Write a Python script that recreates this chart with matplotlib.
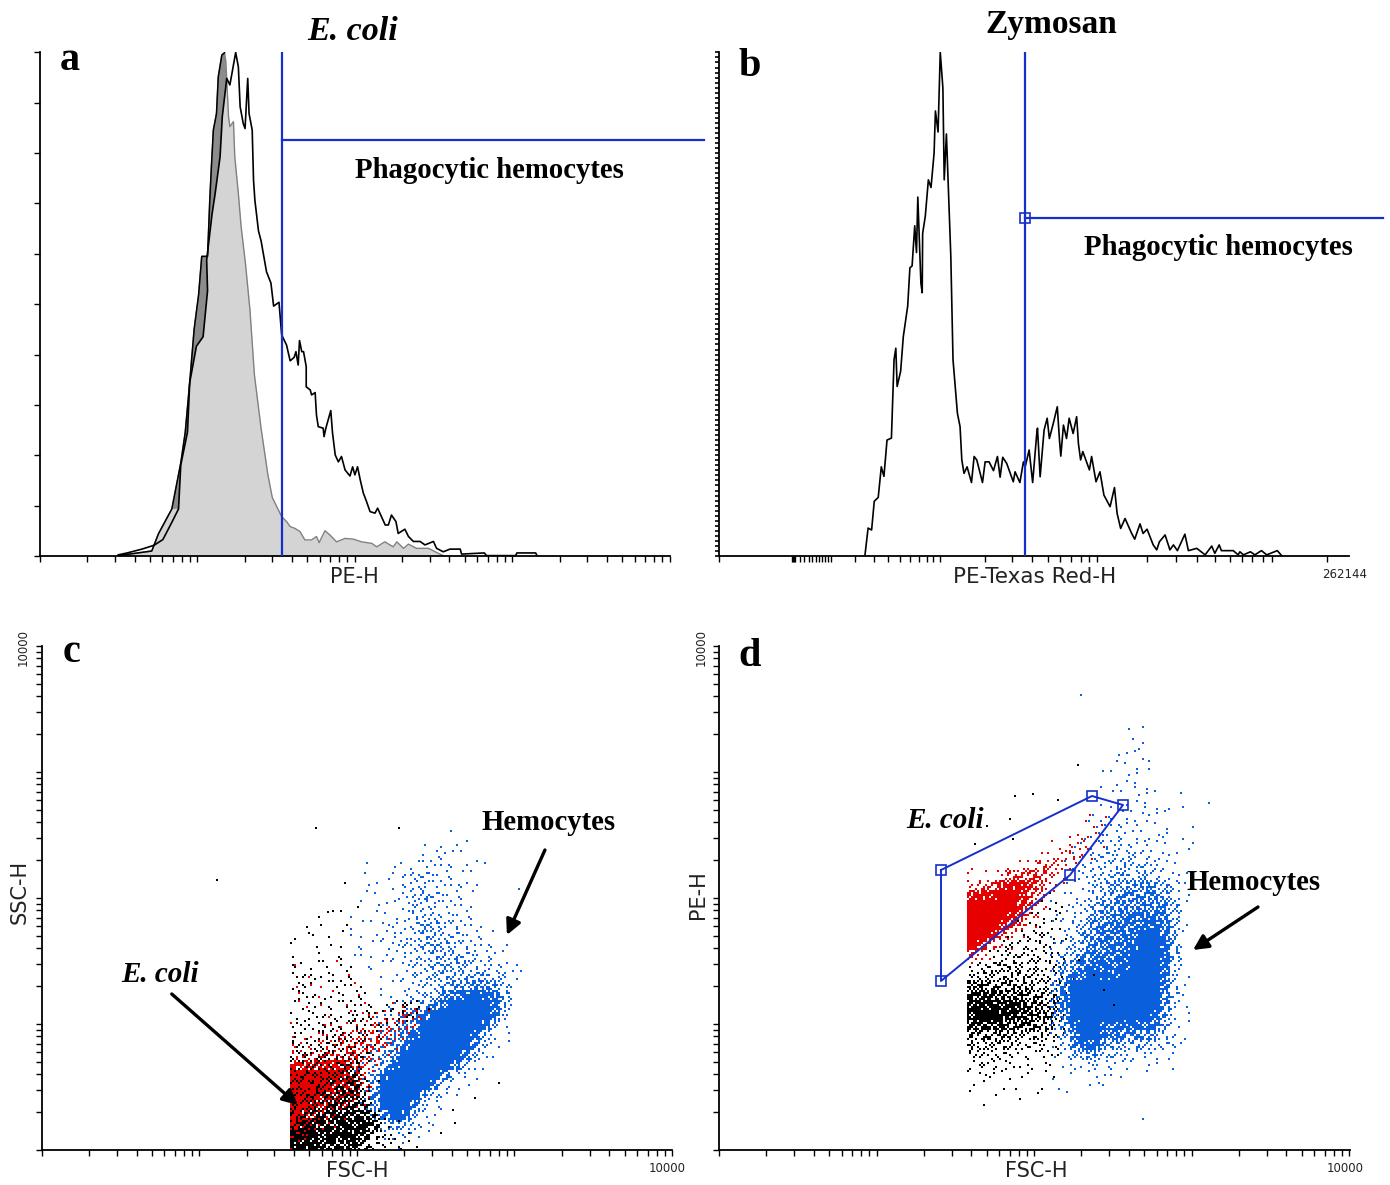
import matplotlib
matplotlib.use('Agg')
import matplotlib.pyplot as plt
import numpy as np

plt.rcParams['font.family'] = ['Liberation Serif', 'DejaVu Sans']

W, H = 1390, 1185

# histogram a, (channel, count)
a_sample = [(176,3),(196,8),(229,18),(256,28),(276,43),(296,88),(311,123),(316,238),(331,323),(336,453),(351,548),(366,573),(376,693),(374,773),(386,893),
            (393,947),(404,1043),(409,1148),(419,1248),(426,1231),(432,1270),(439,1316),(445,1278),(449,1174),(456,1130),(460,1117),(466,1248),(469,1156),(476,1113),(479,982),(482,930),
            (490,850),(496,823),(508,743),(518,713),(524,653),(536,663),(542,578),(553,551),(561,510),(570,519),(574,534),(579,499),(582,563),(587,534),(591,534),(597,495),(597,442),
            (606,434),(609,421),(617,427),(620,368),(624,338),(635,334),(637,312),(641,334),(652,380),(656,321),(662,264),(669,246),(676,260),(684,225),(695,209),(701,233),(706,212),
            (712,233),(718,199),(725,164),(731,146),(740,116),(751,112),(757,125),(762,112),(774,81),(781,81),(788,107),(798,90),(803,59),(818,70),(826,51),(837,38),(852,38),(863,29),
            (882,38),(889,20),(904,11),(919,18),(942,18),(945,5),(996,8),(1001,1),(1066,1),(1069,8),(1111,8),(1114,1)]
a_control = [(176,1),(251,13),(266,58),(296,123),(316,243),(326,323),(336,453),(346,593),(356,683),(363,783),(376,783),(381,930),(385,1026),(389,1113),(396,1156),(400,1252),
             (408,1309),(414,1315),(417,1291),(423,1148),(426,1122),(434,1135),(437,1043),(445,947),(451,863),(461,763),(471,643),(481,473),(496,333),(511,213),(521,153),
             (542,103),(553,90),(561,77),(572,72),(583,64),(594,42),(609,42),(620,51),(626,35),(639,66),(650,55),(665,37),(684,46),(703,44),(721,37),(744,33),(755,24),(773,37),
             (792,24),(800,37),(815,20),(826,31),(844,20),(871,20),(893,7),(904,1)]

# histogram b
b_counts = [(333,3),(340,73),(348,68),(354,143),(363,153),(370,233),(376,208),(383,303),(393,308),(399,513),(403,543),(406,443),(414,483),(420,573),(430,653),(435,753),(440,758),
            (446,863),(450,793),(453,938),(460,713),(463,688),(464,843),(470,888),(477,983),(483,963),(490,1053),(493,1163),(499,1108),(504,1316),(510,1223),(513,983),(518,1103),
            (523,943),(528,783),(533,513),(543,373),(549,338),(553,251),(558,216),(565,233),(575,192),(581,260),(587,251),(591,233),(600,192),(606,246),(615,246),(625,223),(634,260),
            (640,206),(646,258),(655,242),(670,194),(674,220),(685,192),(693,246),(697,233),(706,277),(714,192),(723,316),(725,334),(731,207),(740,329),(747,360),(752,307),(761,347),
            (770,390),(775,303),(778,261),(784,342),(791,307),(797,360),(806,320),(814,364),(818,294),(823,251),(828,273),(843,225),(848,260),(858,194),(867,220),(876,159),(890,129),
            (900,179),(906,111),(914,72),(924,98),(939,59),(946,44),(958,84),(965,59),(974,70),(988,29),(996,16),(1002,37),(1015,55),(1026,16),(1034,29),(1043,14),(1060,57),(1068,14),
            (1087,20),(1106,3),(1121,26),(1128,7),(1138,29),(1143,14),(1170,14),(1181,3),(1185,11),(1193,3),(1209,11),(1219,3),(1234,14),(1246,3),(1270,14),(1280,1)]
b_xticks = [0,168,170,172,174,185,195,205,213,221,229,236,243,250,256,311,353,385,413,435,455,473,488,503,606,668,713,748,776,801,823,843,860,975,1040,1088,1128,1163,1190,1213,1238,1258,1383]

# dot plots: events per 10x10 channel cell (0-9 scale)
c_blue = ["0000000000000000100000000","0000000000000101110000000","0000000000000122110000000","0000000100112222111100000",
          "0000000101123322111000000","0000000110123322221000100","0000000110123432211000000","0000000111123332211000000",
          "0000001011123332221000000","0000001112223443321100000","0000001112223443322110000","0000001112233444332211000",
          "0000001111223344433221000","0000000111123344443322100","0000000001123344444433210","0000000001122334556653100",
          "0000000001123346789874100","0000000001223468999984100","0000000011235799999973000","0000000012346999999841000",
          "0000000123468999998421000","0000000123579999996321000","0000000134699999974210000","0000001135899999742100000",
          "0000001248999996321000000","0000000259999963210000000","0000000269999532100000000","0000000259996321000000000",
          "0000000036984210000000000","0000000023543210000000000","0000000002222100000000000","0000000000110000000000000"]
c_red = ["1000100","0100010","1011001","1010101","1101010100111","00010012222332","1001122233332","112223444432",
         "22233455532","3334556531","777888642","999998531","999988531","99988742","99875421","985321","96321","8421","321"]
c_black = ["000001","","","001011","010101","111101","101011","101011","2122011","2222121","22112211","22212122",
           "12122222112331","2222223322232","232232322211","2223332321","323333321","333433331","33433442","34344552",
           "434455631","34455664","445566651","4566777751","57777888621","888888874321","8887777532221"]
c_black_x = [457,433,411,413,399,274,357,175,316,286]
c_black_y = [67,52,40,27,17,322,322,270,243,238]

d_black = ["000000001","0000000121","0000001221","0000012221","0000123321","0002333321","0023333322","13344343321",
           "34444443321","665555443321","777666554321","88888765531","89988766531","7777666542","5555544432",
           "4444433321","3333222221","233221211","122111111","11011001","10100101","01"]
d_red = ["00000000000011","00000000000111","00000000001221","00000000112321","0000000123321","10001234432","1103556532",
         "3457887521","788998541","99999753","99998631","9998641","998531","97421","531","1"]
d_blue = ["0000000101","000000001","0000000011","0000001111","0000001112","000001111","0000011121","00000011111001",
          "0000011112110101","000011121211","000112222111001","00012222221201","001123322211011","0012333333221",
          "0122333433321","01223344343221","01123455565431","01223456666531","11234566666641","12235667777641",
          "12346677788741","12356777899741","23456777899841","23467778999841","34678888999831","35789889999731",
          "46999999999731","47999999999631","47999999999631","46999999998521","35899888887421","24799776665321",
          "13688554443321","1245533322211","0122322211101","1011111101","1000110"]
d_black_x = [296,314,359,339,291,268,256,294,360,375,385,395]
d_black_y = [354,356,385,350,331,324,306,311,190,175,160,145]
d_blue_x = [362,424,348,371]
d_blue_y = [455,31,58,65]
d_gate_x = [222,373,404,351,222,222]
d_gate_y = [280,354,345,275,169,280]

log_ticks = [k * 10**n for n in range(4) for k in range(1, 10)] + [10000]

GATE = '#1430cc'
BLUE = '#0a5fdc'
RED = '#e60000'

# the dots inside a cell are a fixed stipple pattern, only the cell counts come from the picture
dots_per_level = [0, 1, 2, 4, 7, 10, 14, 18, 21, 25]
site_order = [12,0,24,4,20,7,17,11,13,2,22,10,14,6,18,1,23,5,19,3,21,9,15,8,16]


def stipple(ax, rows, col0, top, colour):
    xs, ys = [], []
    for i, row in enumerate(rows):
        for j, ch in enumerate(row):
            start = (7 * i + 11 * j) % 25
            for k in range(dots_per_level[int(ch)]):
                site = site_order[(start + k) % 25]
                xs.append(col0 + 10 * j + 1 + 2 * (site % 5))
                ys.append(top - 10 * i - 1 - 2 * (site // 5))
    ax.scatter(xs, ys, s=2.3, marker='s', c=colour, linewidths=0, zorder=2)


def make_axes(left, top, right, bottom, xmax, ymax):
    ax = fig.add_axes([left / W, 1 - bottom / H, (right - left) / W, (bottom - top) / H])
    ax.set_xlim(0, xmax)
    ax.set_ylim(0, ymax)
    ax.spines['top'].set_visible(False)
    ax.spines['right'].set_visible(False)
    ax.spines['left'].set_linewidth(1.3)
    ax.spines['bottom'].set_linewidth(1.3)
    ax.tick_params(length=4.2, width=1.0, labelbottom=False, labelleft=False)
    return ax


def serif(x, y, s, size, style='normal'):
    fig.text(x / W, 1 - y / H, s, fontsize=size, fontweight='bold', fontstyle=style,
             ha='center', va='center', color='black')


def sans(x, y, s, size=15, rotation=0):
    fig.text(x / W, 1 - y / H, s, fontsize=size, family='DejaVu Sans', rotation=rotation,
             ha='center', va='center', color='#222222')


def arrow(ax, start, end):
    ax.annotate('', xy=end, xytext=start, annotation_clip=False,
                arrowprops=dict(arrowstyle='-|>,head_width=0.45,head_length=0.9', color='black', lw=2.4, shrinkA=0, shrinkB=0))


fig = plt.figure(figsize=(W / 100, H / 100), dpi=100, facecolor='white')

a_sample_ch, a_sample_n = zip(*a_sample)
a_control_ch, a_control_n = zip(*a_control)
b_ch, b_n = zip(*b_counts)

# a
ax_a = make_axes(39.7, 52.4, 669.6, 556, 1411, 1316)
ax_a.fill_between(a_control_ch, a_control_n, color='#d4d4d4', linewidth=0, zorder=1)
# darker strip between the two rising edges
rise_c = [p for p in a_control if p[0] <= 414 and p[1] >= 100]
rise_s = [p for p in a_sample if p[0] <= 419 and p[1] >= 100]
ax_a.fill([p[0] for p in rise_c] + [p[0] for p in rise_s[::-1]],
          [p[1] for p in rise_c] + [p[1] for p in rise_s[::-1]], color='#8c8c8c', linewidth=0, zorder=1.5)
ax_a.plot(a_control_ch, a_control_n, color='#808080', lw=1.0, zorder=2)
ax_a.plot([p[0] for p in a_control if p[0] <= 414], [p[1] for p in a_control if p[0] <= 414], color='black', lw=1.1, zorder=3)
ax_a.plot(a_sample_ch, a_sample_n, color='black', lw=1.2, zorder=3)
ax_a.plot([543, 543], [0, 1316], color=GATE, lw=1.6, zorder=4)
ax_a.plot([543, 1489], [1086, 1086], color=GATE, lw=1.6, zorder=4, clip_on=False)
ax_a.set_yticks(np.arange(11) * 131.6)
ax_a.set_xticks([352.75 * np.log10(t) for t in log_ticks])

# b
ax_b = make_axes(718.5, 52.4, 1349, 556, 1433, 1316)
ax_b.plot(b_ch, b_n, color='black', lw=1.2, zorder=3)
ax_b.plot([696, 696], [0, 1316], color=GATE, lw=1.6, zorder=4)
ax_b.plot([696, 1511], [883, 883], color=GATE, lw=1.6, zorder=4, clip_on=False)
ax_b.plot([696], [883], marker='s', ms=7.5, mfc='none', mec=GATE, mew=1.2, zorder=5)
ax_b.set_yticks(np.linspace(0, 1316, 101))
ax_b.tick_params(axis='y', length=3, width=1.2)
ax_b.set_xticks(b_xticks)

# c
ax_c = make_axes(41.7, 646, 672, 1150, 630, 504)
stipple(ax_c, c_blue, 248, 320, BLUE)
stipple(ax_c, c_red, 248, 190, RED)
stipple(ax_c, c_black, 248, 270, 'black')
ax_c.scatter(c_black_x, c_black_y, s=3, marker='s', c='black', linewidths=0, zorder=3)
ax_c.set_xticks([157.5 * np.log10(t) for t in log_ticks])
ax_c.set_yticks([126 * np.log10(t) for t in log_ticks])
arrow(ax_c, (503, 300), (465, 215))
arrow(ax_c, (130, 156), (256, 45))

# d
ax_d = make_axes(719, 646, 1350, 1150, 631, 504)
stipple(ax_d, d_black, 248, 260, 'black')
stipple(ax_d, d_blue, 331, 430, BLUE)
stipple(ax_d, d_red, 248, 340, RED)
ax_d.scatter(d_black_x, d_black_y, s=3, marker='s', c='black', linewidths=0, zorder=3)
ax_d.scatter(d_blue_x, d_blue_y, s=3, marker='s', c=BLUE, linewidths=0, zorder=3)
ax_d.plot(d_gate_x, d_gate_y, color=GATE, lw=1.4, zorder=4)
ax_d.plot(d_gate_x[:5], d_gate_y[:5], ls='none', marker='s', ms=7.5, mfc='none', mec=GATE, mew=1.2, zorder=5)
ax_d.set_xticks([157.5 * np.log10(t) for t in log_ticks])
ax_d.set_yticks([126 * np.log10(t) for t in log_ticks])
arrow(ax_d, (539, 243), (474, 200))

# titles and labels
serif(353, 31, 'E. coli', 24.5, 'italic')
serif(1051, 24, 'Zymosan', 24)
serif(70, 60, 'a', 29)
serif(750, 67, 'b', 29)
serif(72, 653, 'c', 29)
serif(750, 657, 'd', 29)
serif(489, 171, 'Phagocytic hemocytes', 20.7)
serif(1218, 248, 'Phagocytic hemocytes', 20.7)
serif(549, 822, 'Hemocytes', 20.7)
serif(1254, 883, 'Hemocytes', 20.7)
serif(160, 975, 'E. coli', 21, 'italic')
serif(945, 820, 'E. coli', 21, 'italic')

sans(354, 577, 'PE-H')
sans(1035, 577, 'PE-Texas Red-H', size=15.5)
sans(357, 1171, 'FSC-H')
sans(1036, 1171, 'FSC-H')
sans(20, 892, 'SSC-H', rotation=90)
sans(698, 895, 'PE-H', rotation=90)
sans(1345, 574, '262144', size=8.5)
sans(23, 648, '10000', size=8.5, rotation=90)
sans(701, 648, '10000', size=8.5, rotation=90)
sans(667, 1168, '10000', size=8.5)
sans(1345, 1168, '10000', size=8.5)

fig.savefig('out.png', dpi=100)
